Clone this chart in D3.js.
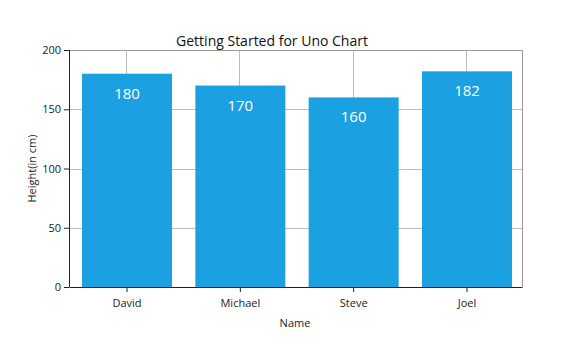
<!DOCTYPE html>
<html>
<head>
<meta charset="utf-8">
<script src="https://cdn.jsdelivr.net/npm/d3@7"></script>
<style>
  html, body { margin: 0; padding: 0; background: #fff; }
  svg { display: block; font-family: "Open Sans", "Noto Sans", sans-serif; }
</style>
</head>
<body>
<svg id="chart" width="564" height="349"></svg>
<script>
// Chart data
const names = ["David", "Michael", "Steve", "Joel"];
const heights = [180, 170, 160, 182];
const yTicks = [0, 50, 100, 150, 200];
const titleText = "Getting Started for Uno Chart";
const xTitle = "Name";
const yTitle = "Height(in cm)";

const svg = d3.select("#chart");
const W = 564, H = 349;
const x0 = 69.5, x1 = 522.5;
const y0 = 287, y1 = 50;

const x = d3.scaleBand().domain(names).range([70, 524]).paddingInner(0.206).paddingOuter(0.106);
const y = d3.scaleLinear().domain([0, 200]).range([y0, y1]);

// gridlines
const grid = svg.append("g").attr("stroke", "#bdbdbd").attr("stroke-width", 1);
grid.selectAll("line.h").data(yTicks.filter(t => t > 0 && t < 200)).join("line")
  .attr("x1", x0).attr("x2", x1)
  .attr("y1", d => Math.round(y(d)) + 0.5).attr("y2", d => Math.round(y(d)) + 0.5);
grid.selectAll("line.v").data(names).join("line")
  .attr("x1", d => Math.round(x(d) + x.bandwidth() / 2) - 0.5)
  .attr("x2", d => Math.round(x(d) + x.bandwidth() / 2) - 0.5)
  .attr("y1", y1).attr("y2", y0);

// plot border (top, right)
svg.append("path")
  .attr("d", `M${x0},${y1 + 0.5}H${x1}V${y0}`)
  .attr("fill", "none").attr("stroke", "#999").attr("stroke-width", 1);

// bars
svg.append("g").selectAll("rect").data(heights).join("rect")
  .attr("x", (d, i) => x(names[i]))
  .attr("width", x.bandwidth())
  .attr("y", d => y(d))
  .attr("height", d => y(0) - y(d))
  .attr("fill", "#1ba1e2");

// value labels
svg.append("g").selectAll("text").data(heights).join("text")
  .attr("x", (d, i) => x(names[i]) + x.bandwidth() / 2)
  .attr("y", d => y(d) + 25)
  .attr("text-anchor", "middle")
  .attr("fill", "#fff")
  .attr("font-size", 15)
  .text(d => d);

// axes
const yAxis = d3.axisLeft(y).tickValues(yTicks).tickSize(5).tickPadding(3);
const gy = svg.append("g").attr("transform", `translate(${x0 - 0.5},0)`).call(yAxis);
const xAxis = d3.axisBottom(x).tickSize(5).tickPadding(7).tickSizeOuter(0);
const gx = svg.append("g").attr("transform", `translate(0,${y0})`).call(xAxis);
[gx, gy].forEach(g => {
  g.select(".domain").attr("stroke", "#222");
  g.selectAll(".tick line").attr("stroke", "#222");
  g.selectAll(".tick text").attr("fill", "#222").attr("font-size", 11)
    .attr("font-family", "\"Open Sans\", sans-serif");
});
gy.select(".domain").attr("d", `M0.5,${y1}V${y0}`);
gx.select(".domain").attr("d", `M${x0},0.5H${x1}`);

// titles
svg.append("text").attr("x", 272).attr("y", 46)
  .attr("text-anchor", "middle").attr("font-size", 14).attr("fill", "#111")
  .text(titleText);
svg.append("text").attr("x", 295).attr("y", 327)
  .attr("text-anchor", "middle").attr("font-size", 11).attr("fill", "#222")
  .text(xTitle);
svg.append("text").attr("transform", `translate(36,${(y0 + y1) / 2}) rotate(-90)`)
  .attr("text-anchor", "middle").attr("font-size", 11).attr("fill", "#222")
  .text(yTitle);
</script>
</body>
</html>
